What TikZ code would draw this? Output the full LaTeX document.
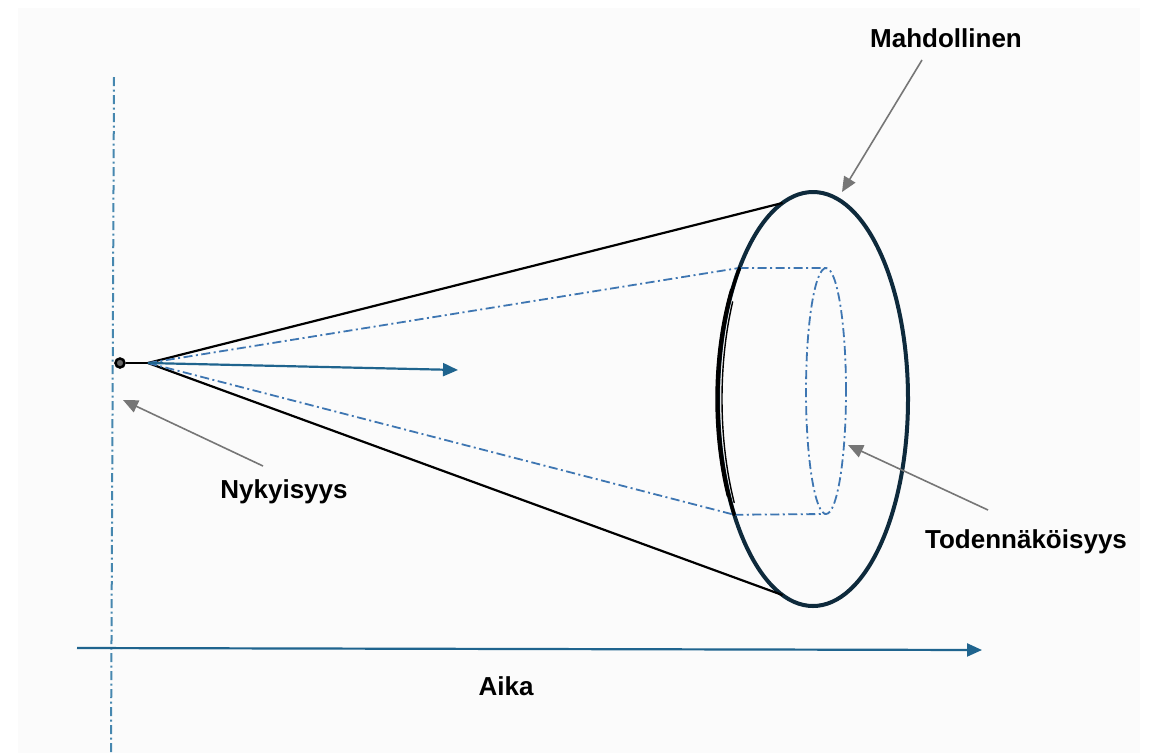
\documentclass[tikz,border=0pt]{standalone}
\usepackage{fontspec}
\setmainfont{Liberation Sans}
\usetikzlibrary{arrows.meta,shapes.geometric}
\definecolor{navy}{RGB}{14,42,60}
\definecolor{axisblue}{RGB}{31,100,142}
\definecolor{dotblue}{RGB}{62,118,178}
\definecolor{vblue}{RGB}{70,135,175}
\definecolor{pointer}{RGB}{118,118,118}
\begin{document}
\begin{tikzpicture}[x=1pt,y=-1pt,
 lbl/.style={font=\fontsize{26}{30}\selectfont\bfseries, inner sep=0pt, anchor=base},
 dashdot/.style={dotblue, line width=1.8pt, dash pattern=on 9pt off 3.5pt on 2pt off 3.5pt},
 blueArrow/.style={axisblue, line width=2.2pt, -{Triangle[length=15pt,width=13pt]}},
 pointerArrow/.style={pointer, line width=1.6pt, -{Triangle[length=15pt,width=13pt]}},
 coneline/.style={black, line width=2.2pt},
 scribble/.style={black, line cap=round}]
\fill[white] (0,0) rectangle (1150,753);
\fill[black!1.5] (18,8) rectangle (1140,753);
\useasboundingbox (0,0) rectangle (1150,753);

% vertical "present" line
\coordinate (vtop) at (114,77);
\coordinate (vbot) at (111,753);
\draw[vblue, line width=2pt, dash pattern=on 9pt off 3.5pt on 2pt off 3.5pt] (vtop) -- (vbot);

% big ellipse
\node[draw=navy, line width=4pt, ellipse, minimum width=190pt, minimum height=414pt, inner sep=0pt, outer sep=0pt] (big) at (813,399) {};
\path (big.center) ++(251.3:95 and 207) coordinate (tanTop);
\path (big.center) ++(108.7:95 and 207) coordinate (tanBot);
\path (big.center) ++(219.3:95 and 207) coordinate (cylTL);
\path (big.center) ++(146:95 and 207) coordinate (cylBL);

% small ellipse (cylinder end)
\node[dashdot, draw, ellipse, minimum width=40pt, minimum height=246pt, inner sep=0pt, outer sep=0pt] (small) at (826,391) {};

% present point and apex
\node[circle, draw=black, line width=2.5pt, fill=black!60, minimum size=9pt, inner sep=0pt] (now) at (120,363) {};
\coordinate (apex) at (148,363);

% cone lines
\draw[coneline] (now) -- (apex);
\draw[coneline] (apex) -- (tanTop);
\draw[coneline] (apex) -- (tanBot);

% inner cone
\draw[dashdot] (apex) -- (cylTL);
\draw[dashdot] (apex) -- (cylBL);
\draw[dashdot] (cylTL) -- (small.north);
\draw[dashdot] (cylBL) -- (small.south);

% scribbled left end of the cylinder
\draw[scribble, line width=3.2pt] (cylTL) arc[start angle=219.3, end angle=146, x radius=95, y radius=207];
\draw[scribble, line width=1.4pt] (big.center) ++(212:97 and 207) arc[start angle=212, end angle=152, x radius=97, y radius=207];
\draw[scribble, line width=1.4pt] (big.center) ++(208:91 and 207) arc[start angle=208, end angle=150, x radius=91, y radius=207];

% direction arrow
\coordinate (dirEnd) at (458,370);
\draw[blueArrow] (apex) -- (dirEnd);

% time axis
\coordinate (axL) at (77,648);
\coordinate (axR) at (982,650);
\draw[blueArrow] (axL) -- (axR);

% labels
\node[lbl] (mah) at (946,47) {Mahdollinen};
\node[lbl] (nyk) at (284,498) {Nykyisyys};
\node[lbl] (tod) at (1026,548) {Todennäköisyys};
\node[lbl] (aika) at (506,695) {Aika};

% pointers
\coordinate (mahTail) at (922,60);
\coordinate (mahTip) at (842,192);
\coordinate (nykTail) at (263,466);
\coordinate (nykTip) at (123,400);
\coordinate (todTail) at (988,510);
\coordinate (todTip) at (848,445);
\draw[pointerArrow] (mahTail) -- (mahTip);
\draw[pointerArrow] (nykTail) -- (nykTip);
\draw[pointerArrow] (todTail) -- (todTip);
\end{tikzpicture}
\end{document}
